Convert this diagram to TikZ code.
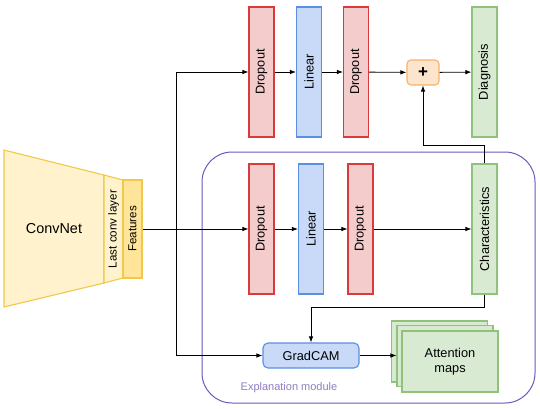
\documentclass[tikz,border=0pt]{standalone}
\usepackage{fontspec}
\setmainfont{Liberation Sans}
\usepackage{graphicx}
\usepackage{xcolor}
\usetikzlibrary{arrows.meta, positioning, calc}

\definecolor{redfill}{HTML}{F4CCCC}
\definecolor{redline}{HTML}{D93A3A}
\definecolor{bluefill}{HTML}{C9DAF8}
\definecolor{blueline}{HTML}{5B8FE3}
\definecolor{greenfill}{HTML}{D9EAD3}
\definecolor{greenline}{HTML}{8FC27A}
\definecolor{yelfill}{HTML}{FFF2CC}
\definecolor{yelline}{HTML}{F1C84A}
\definecolor{featfill}{HTML}{FFE599}
\definecolor{orfill}{HTML}{FCE5CD}
\definecolor{orline}{HTML}{F6B26B}
\definecolor{modline}{HTML}{6F55C0}
\definecolor{modtext}{HTML}{8E7CC3}

\begin{document}
\begin{tikzpicture}[x=1pt, y=-1pt,
            every node/.style={font=\fontsize{12.8}{15}\selectfont, inner sep=0pt},
            layer/.style={draw, line width=1.1pt, minimum width=25pt, minimum height=130pt},
            drop/.style={layer, fill=redfill, draw=redline},
            lin/.style={layer, fill=bluefill, draw=blueline},
            outbox/.style={layer, fill=greenfill, draw=greenline},
            card/.style={draw=greenline, fill=greenfill, line width=1.1pt, minimum width=96pt, minimum height=61pt, align=center},
            link/.style={-{Latex[length=6pt,width=4.5pt]}, line width=0.8pt}]
            \useasboundingbox (0,0) rectangle (540,408);

            % ConvNet
            \draw[fill=yelfill, draw=yelline, line width=1.1pt] (4,150) -- (104,175) -- (104,283) -- (4,307) -- cycle;
            \node[font=\fontsize{14.4}{16}\selectfont] (convnet) at (54,229) {ConvNet};
            \draw[fill=yelfill, draw=yelline, line width=1.1pt] (104,175) -- (123,180) -- (123,278) -- (104,283) -- cycle;
            \node[font=\fontsize{11.6}{13}\selectfont] (lastconv) at (113.5,229) {\rotatebox{90}{Last conv layer}};
            \node[draw=yelline, fill=featfill, line width=1.1pt, minimum width=19pt, minimum height=98pt] (feat) at (132.5,229)
                {\fontsize{11.6}{13}\selectfont\rotatebox{90}{Features}};

            % Explanation module
            \draw[draw=modline, line width=1pt, rounded corners=30pt] (202,152) rectangle (535,403);
            \node[text=modtext, font=\fontsize{11}{13}\selectfont] (modlabel) at (289,388) {Explanation module};

            % Diagnosis branch
            \node[drop] (drop1) at (261.5,72) {\rotatebox{90}{Dropout}};
            \node[lin] (lin1) at (309,72) {\rotatebox{90}{Linear}};
            \node[drop] (drop2) at (356,72) {\rotatebox{90}{Dropout}};
            \node[draw=orline, fill=orfill, line width=1.1pt, rounded corners=4pt, minimum width=32pt, minimum height=25pt,
                font=\fontsize{17}{17}\selectfont\bfseries] (plus) at (423,72.5) {+};
            \node[outbox] (diag) at (484.5,72) {\rotatebox{90}{Diagnosis}};

            % Characteristics branch
            \node[drop] (drop3) at (261.5,229) {\rotatebox{90}{Dropout}};
            \node[lin] (lin2) at (311,229) {\rotatebox{90}{Linear}};
            \node[drop] (drop4) at (360.5,229) {\rotatebox{90}{Dropout}};
            \node[outbox] (char) at (484.5,229) {\rotatebox{90}{Characteristics}};

            % GradCAM
            \node[draw=blueline, fill=bluefill, line width=1.1pt, rounded corners=5pt, minimum width=96pt, minimum height=25pt] (grad) at (311,355.5) {GradCAM};
            \node[card] (maps3) at (439.5,351.5) {};
            \node[card] (maps2) at (445,356) {};
            \node[card] (maps) at (450,361.5) {Attention\\maps};

            % connections
            \coordinate (split) at (176,229);
            \draw[line width=0.8pt] (feat) -- (split);
            \draw[link] (split) -- (drop3);
            \draw[link] (split) |- (drop1);
            \draw[link] (split) |- (grad);
            \draw[link] (drop1) -- (lin1);
            \draw[link] (lin1) -- (drop2);
            \draw[link] (drop2) -- (plus);
            \draw[link] (plus) -- (diag);
            \draw[link] (drop3) -- (lin2);
            \draw[link] (lin2) -- (drop4);
            \draw[link] (drop4) -- (char);
            \draw[link] (char.north) -- ++(0,-18) -| (plus.south);
            \draw[link] (char.south) -- ++(0,13) -| (grad.north);
            \draw[link] (grad) -- (maps2.west |- grad);
        \end{tikzpicture}
\end{document}
